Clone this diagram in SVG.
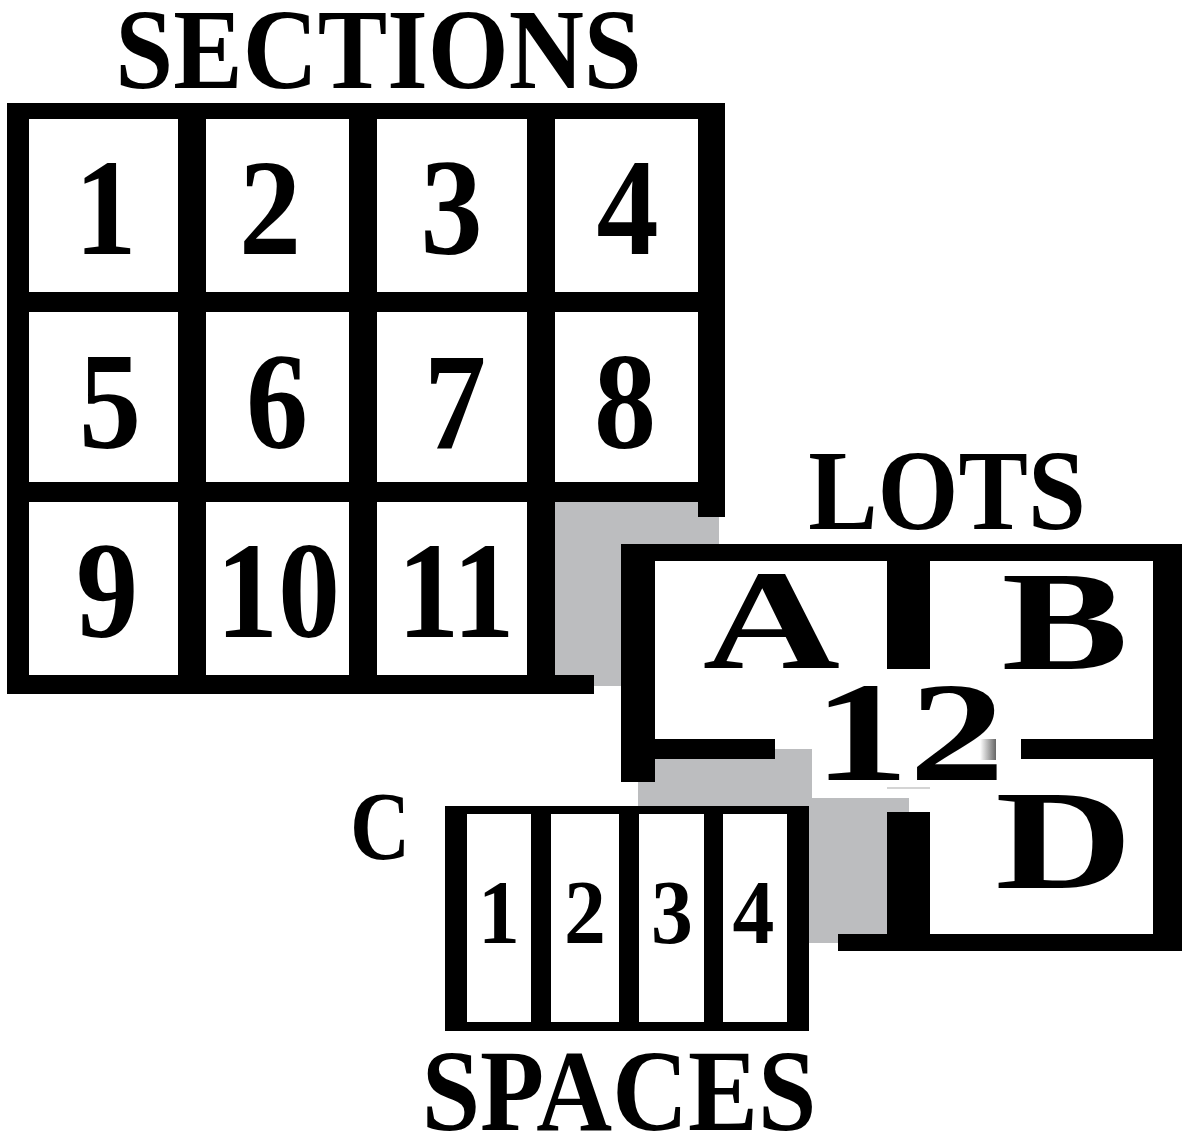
<svg xmlns="http://www.w3.org/2000/svg" width="1182" height="1134" viewBox="0 0 1182 1134">
<style>
.t{font-family:"Liberation Serif","Times New Roman",serif;font-weight:bold;text-anchor:middle;fill:#000}
.b{fill:#000}
.g{fill:#bcbdbf}
.w{fill:#fff}
.big{font-size:138px}
.lot{font-size:143px}
.ttl{font-size:115px}
.sp{font-size:90px}
</style>
<defs>
<linearGradient id="fade" x1="0" y1="0" x2="1" y2="0">
<stop offset="0" stop-color="#ffffff"/>
<stop offset="1" stop-color="#666666"/>
</linearGradient>
</defs>
<rect x="0" y="0" width="1182" height="1134" fill="#fff"/>

<g id="shading">
<polygon class="g" points="555,502 719,502 719,544 621,544 621,686 555,686"/>
<polygon class="g" points="638,749 812,749 812,798 909,798 909,943 638,943"/>
</g>

<g id="sections">
<text class="t ttl" transform="translate(378.5,88) scale(0.905,1)">SECTIONS</text>
<g id="sections-grid">
<rect class="b" x="7" y="103" width="718" height="16"/>
<rect class="b" x="7" y="103" width="22" height="591"/>
<rect class="b" x="7" y="675" width="587" height="19"/>
<rect class="b" x="698" y="103" width="27" height="414"/>
<rect class="b" x="178" y="103" width="28" height="591"/>
<rect class="b" x="349" y="103" width="28" height="591"/>
<rect class="b" x="527" y="103" width="28" height="591"/>
<rect class="b" x="7" y="292" width="718" height="20"/>
<rect class="b" x="7" y="482" width="718" height="20"/>
</g>
<g id="section-1"><text class="t big" transform="translate(105.5,254) scale(0.9,1)">1</text></g>
<g id="section-2"><text class="t big" transform="translate(270,254) scale(0.9,1)">2</text></g>
<g id="section-3"><text class="t big" transform="translate(451.5,254) scale(0.9,1)">3</text></g>
<g id="section-4"><text class="t big" transform="translate(627.5,254) scale(0.9,1)">4</text></g>
<g id="section-5"><text class="t big" transform="translate(110,448) scale(0.9,1)">5</text></g>
<g id="section-6"><text class="t big" transform="translate(277,448) scale(0.9,1)">6</text></g>
<g id="section-7"><text class="t big" transform="translate(455,448) scale(0.9,1)">7</text></g>
<g id="section-8"><text class="t big" transform="translate(625,448) scale(0.9,1)">8</text></g>
<g id="section-9"><text class="t big" transform="translate(107,637) scale(0.9,1)">9</text></g>
<g id="section-10"><text class="t big" transform="translate(278,637) scale(0.9,1)">10</text></g>
<g id="section-11"><text class="t big" transform="translate(456,637) scale(0.9,1)">11</text></g>
</g>

<g id="lots">
<text class="t ttl" transform="translate(947,529) scale(0.905,1)">LOTS</text>
<rect class="b" x="621" y="544" width="561" height="17"/>
<rect class="b" x="621" y="544" width="34" height="238"/>
<rect class="b" x="1153" y="544" width="29" height="407"/>
<rect class="b" x="655" y="739" width="120" height="20"/>
<rect class="b" x="1021" y="739" width="132" height="20"/>
<rect class="b" x="887" y="561" width="43" height="108"/>
<rect class="b" x="887" y="812" width="43" height="122"/>
<rect class="b" x="838" y="934" width="344" height="17"/>
<rect x="887" y="787" width="43" height="2" fill="#d4d4d4"/>
<g id="lot-a"><text class="t lot" transform="translate(771.5,668) scale(1.33,1)">A</text></g>
<g id="lot-b"><text class="t lot" transform="translate(1065,669) scale(1.33,1)">B</text></g>
<g id="lot-12"><text class="t lot" transform="translate(909,780) scale(1.34,1)">12</text>
<rect x="980" y="739" width="16" height="21" fill="url(#fade)"/></g>
<g id="lot-d"><text class="t lot" transform="translate(1064,888) scale(1.33,1)">D</text></g>
<g id="lot-c"><text class="t" style="font-size:97px" transform="translate(380,859) scale(0.86,1)">C</text></g>
</g>

<g id="spaces">
<rect class="b" x="445" y="806" width="364" height="225"/>
<rect class="w" x="467" y="814" width="64" height="208"/>
<rect class="w" x="551" y="814" width="68" height="208"/>
<rect class="w" x="639" y="814" width="65" height="208"/>
<rect class="w" x="723" y="814" width="64" height="208"/>
<g id="space-1"><text class="t sp" transform="translate(499,943) scale(0.93,1)">1</text></g>
<g id="space-2"><text class="t sp" transform="translate(585,943) scale(0.93,1)">2</text></g>
<g id="space-3"><text class="t sp" transform="translate(672,943) scale(0.93,1)">3</text></g>
<g id="space-4"><text class="t sp" transform="translate(753.5,943) scale(0.93,1)">4</text></g>
<text class="t" style="font-size:116px" transform="translate(619,1130) scale(0.905,1)">SPACES</text>
</g>

<g id="connectors"/>
</svg>
